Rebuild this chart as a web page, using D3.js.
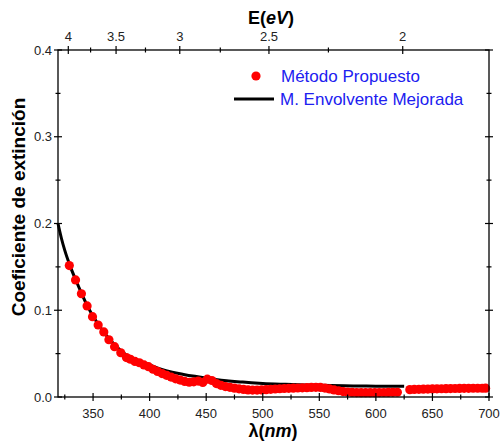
<!DOCTYPE html>
<html>
<head>
<meta charset="utf-8">
<script src="https://cdn.jsdelivr.net/npm/d3@7/dist/d3.min.js"></script>
<style>
  html, body { margin: 0; padding: 0; background: #fff; }
  svg { display: block; font-family: "Liberation Sans", Arial, sans-serif; }
</style>
</head>
<body>
<svg id="chart" width="501" height="446"></svg>
<script>
// Extinction coefficient: proposed method (points)
const lambdaProposed = [329, 334.5, 339.7, 344.7, 349.5, 354.5, 359.5, 364, 369, 374.5, 379.5,
  383, 387, 391, 395, 399, 403, 407, 411, 415, 419, 423, 427, 431, 435, 439, 443, 447, 451, 455, 459,
  463, 467, 471, 475, 479, 483, 487, 491, 495, 499, 503, 507, 511, 515, 519, 523, 527, 531, 535, 539,
  543, 547, 551, 555, 559, 563, 567, 571, 575, 579, 583, 587, 591, 595, 599, 603, 607, 611, 615, 619,
  630, 634, 638, 642, 646, 650, 654, 658, 662, 666, 670, 674, 678, 682, 686, 690, 694, 697];
const kProposed = [0.1515, 0.135, 0.119, 0.105, 0.0926, 0.083, 0.075, 0.066, 0.058, 0.051, 0.0455,
  0.0435, 0.041, 0.0395, 0.037, 0.035, 0.032, 0.0295, 0.027, 0.025, 0.023, 0.021, 0.0195, 0.018, 0.017, 0.0175, 0.0184, 0.0168, 0.0205, 0.019, 0.0155,
  0.0135, 0.012, 0.0112, 0.0102, 0.0094, 0.0087, 0.0082, 0.008, 0.008, 0.0081, 0.0084, 0.0088, 0.0092, 0.0095, 0.0098, 0.010, 0.0102, 0.0104, 0.0106, 0.0108,
  0.011, 0.0112, 0.011, 0.0103, 0.0093, 0.0082, 0.0072, 0.0063, 0.0057, 0.0053, 0.0051, 0.005, 0.005, 0.005, 0.005, 0.0051, 0.0052, 0.0053, 0.0054, 0.0055,
  0.0085, 0.0087, 0.0088, 0.009, 0.0091, 0.0093, 0.0094, 0.0095, 0.0096, 0.0097, 0.0098, 0.0099, 0.0100, 0.0100, 0.0101, 0.0101, 0.0101, 0.0102];

// Extinction coefficient: improved envelope method (line)
const lambdaEnvelope = [319, 322, 325, 330, 335, 340, 345, 350, 355, 360, 365, 370, 375, 380, 390, 400,
  410, 420, 430, 440, 450, 460, 470, 480, 490, 500, 520, 540, 560, 580, 600, 625];
const kEnvelope = [0.200, 0.183, 0.169, 0.150, 0.134, 0.119, 0.105, 0.093, 0.083, 0.074, 0.066, 0.059, 0.053, 0.048, 0.042, 0.037,
  0.032, 0.0285, 0.026, 0.0238, 0.0218, 0.0198, 0.0185, 0.0174, 0.0164, 0.0156, 0.0146, 0.0138, 0.0132, 0.0128, 0.0125, 0.0123];

// Axis ticks
const lambdaTicks = [350, 400, 450, 500, 550, 600, 650, 700];
const lambdaMinor = [325, 375, 425, 475, 525, 575, 625, 675];
const kTicks = [0.0, 0.1, 0.2, 0.3, 0.4];
const kMinor = [0.05, 0.15, 0.25, 0.35];
const energyTicks = [4, 3.5, 3, 2.5, 2];
const energyMinor = [3.75, 3.25, 2.75, 2.25];
const energyEdges = [4.127, 1.7715];   // photon energy at left / right edge (reciprocal scale)

const seriesNames = ["Método Propuesto", "M. Envolvente Mejorada"];

const margin = { left: 58, right: 12, top: 50, bottom: 49 };
const svg = d3.select("#chart");
const W = +svg.attr("width") - margin.left - margin.right;
const H = +svg.attr("height") - margin.top - margin.bottom;

const x = d3.scaleLinear().domain([319, 700]).range([0, W]);
const y = d3.scaleLinear().domain([0, 0.4]).range([H, 0]);
// energy axis: linear in 1/E
const invE = d3.scaleLinear().domain([1 / energyEdges[0], 1 / energyEdges[1]]).range([0, W]);
const xE = e => invE(1 / e);

const g = svg.append("g").attr("transform", `translate(${margin.left},${margin.top})`);

// envelope curve
const env = lambdaEnvelope.map((l, i) => [l, kEnvelope[i]]);
g.append("path")
  .datum(env)
  .attr("fill", "none")
  .attr("stroke", "#000")
  .attr("stroke-width", 3)
  .attr("d", d3.line().x(d => x(d[0])).y(d => y(d[1])).curve(d3.curveMonotoneX));

// proposed-method points
const pts = lambdaProposed.map((l, i) => [l, kProposed[i]]);
g.append("g").selectAll("circle")
  .data(pts).join("circle")
  .attr("cx", d => x(d[0]))
  .attr("cy", d => y(d[1]))
  .attr("r", 4.6)
  .attr("fill", "#ff0000");

// frame
g.append("rect").attr("width", W).attr("height", H)
  .attr("fill", "none").attr("stroke", "#000").attr("stroke-width", 1.3);

const tickColor = "#000";
function hTicks(values, yPos, len) {
  g.append("g").selectAll("line").data(values).join("line")
    .attr("x1", d => d.px).attr("x2", d => d.px)
    .attr("y1", yPos - len).attr("y2", yPos + len)
    .attr("stroke", tickColor).attr("stroke-width", 1.2);
}
function vTicks(values, xPos, len) {
  g.append("g").selectAll("line").data(values).join("line")
    .attr("y1", d => y(d)).attr("y2", d => y(d))
    .attr("x1", xPos - len).attr("x2", xPos + len)
    .attr("stroke", tickColor).attr("stroke-width", 1.2);
}

// bottom axis
hTicks(lambdaTicks.map(v => ({ px: x(v) })), H, 4);
hTicks(lambdaMinor.map(v => ({ px: x(v) })), H, 2.5);
g.append("g").selectAll("text").data(lambdaTicks).join("text")
  .attr("x", d => x(d)).attr("y", H + 21)
  .attr("text-anchor", "middle").attr("font-size", 13).attr("fill", "#222")
  .text(d => d);

// top axis (energy)
hTicks(energyTicks.map(v => ({ px: xE(v) })), 0, 4);
hTicks(energyMinor.map(v => ({ px: xE(v) })), 0, 2.5);
g.append("g").selectAll("text").data(energyTicks).join("text")
  .attr("x", d => xE(d)).attr("y", -9)
  .attr("text-anchor", "middle").attr("font-size", 13).attr("fill", "#222")
  .text(d => d);

// left and right axes
vTicks(kTicks, 0, 4);
vTicks(kMinor, 0, 2.5);
vTicks(kTicks, W, 4);
vTicks(kMinor, W, 2.5);
g.append("g").selectAll("text").data(kTicks).join("text")
  .attr("x", -6).attr("y", d => y(d) + 4.5)
  .attr("text-anchor", "end").attr("font-size", 13).attr("fill", "#222")
  .text(d => d.toFixed(1));

// axis titles
const bx = g.append("text").attr("x", 215).attr("y", H + 40)
  .attr("text-anchor", "middle").attr("font-size", 18).attr("font-weight", "bold");
bx.append("tspan").text("λ(");
bx.append("tspan").attr("font-style", "italic").text("nm");
bx.append("tspan").text(")");

const tx = g.append("text").attr("x", 213).attr("y", -26)
  .attr("text-anchor", "middle").attr("font-size", 18).attr("font-weight", "bold");
tx.append("tspan").text("E(");
tx.append("tspan").attr("font-style", "italic").text("eV");
tx.append("tspan").text(")");

g.append("text")
  .attr("transform", `translate(-33,157) rotate(-90)`)
  .attr("text-anchor", "middle").attr("font-size", 19).attr("font-weight", "bold")
  .text("Coeficiente de extinción");

// legend
const lg = g.append("g").attr("transform", "translate(176,26)");
lg.append("circle").attr("cx", 22).attr("cy", 0).attr("r", 4.6).attr("fill", "#ff0000");
lg.append("line").attr("x1", 0).attr("x2", 40).attr("y1", 23).attr("y2", 23)
  .attr("stroke", "#000").attr("stroke-width", 3);
lg.selectAll("text").data(seriesNames).join("text")
  .attr("x", (d, i) => i === 0 ? 47 : 46)
  .attr("y", (d, i) => 6 + i * 23)
  .attr("font-size", 17).attr("fill", "#2020f0")
  .text(d => d);
</script>
</body>
</html>
